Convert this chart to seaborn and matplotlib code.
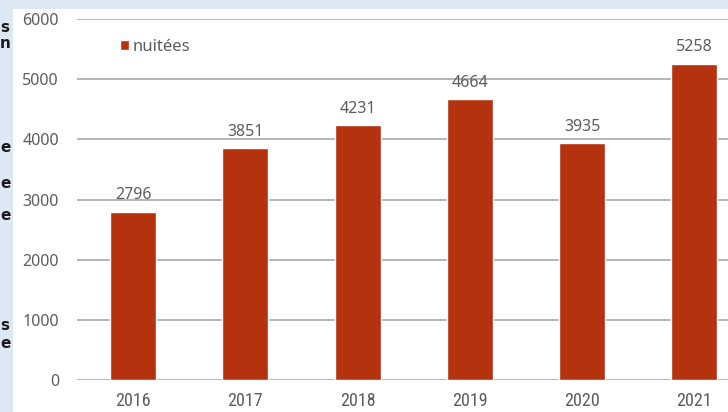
import matplotlib
matplotlib.use("Agg")
import matplotlib.pyplot as plt
from matplotlib.patches import Rectangle, Patch
from matplotlib import font_manager as fm
import seaborn as sns
import pandas as pd

years = ["2016", "2017", "2018", "2019", "2020", "2021"]
nuitees = [2796, 3851, 4231, 4664, 3935, 5258]
yticks = [0, 1000, 2000, 3000, 4000, 5000, 6000]
series_name = "nuitées"
side_chars = [("s", 28), ("n", 44), ("e", 147), ("e", 183), ("e", 216), ("s", 325), ("e", 343)]


def find_narrow():
    prefs = ["Liberation Sans Narrow", "Roboto Condensed", "Open Sans Condensed",
             "Noto Sans Condensed", "DejaVu Sans"]
    cands = []
    for f in fm.fontManager.ttflist:
        nm = f.name
        st = str(f.stretch)
        narrow = ("Narrow" in nm or "Condensed" in nm or "ondensed" in st
                  or "Condensed" in f.fname or "Narrow" in f.fname)
        if not narrow or f.style != "normal":
            continue
        if isinstance(f.weight, int) and f.weight != 400:
            continue
        if "Bold" in f.fname or "Italic" in f.fname or "Oblique" in f.fname:
            continue
        rank = len(prefs)
        for i, p in enumerate(prefs):
            if nm.startswith(p):
                rank = i
                break
        cands.append((rank, f.fname))
    if cands:
        cands.sort()
        return fm.FontProperties(fname=cands[0][1])
    return fm.FontProperties(family="DejaVu Sans", stretch="condensed")


sns.set_theme(style="white")
W, H = 728, 412
fig = plt.figure(figsize=(W / 100, H / 100), dpi=100)
fig.patch.set_facecolor("#dde8f4")
fig.patches.append(Rectangle((13 / W, 0), 1, (H - 9) / H, transform=fig.transFigure,
                             facecolor="white", edgecolor="none", zorder=-10))

ax = fig.add_axes([77 / W, (H - 380) / H, 651 / W, 361 / H])
ax.set_zorder(5)
ax.set_facecolor("none")
bar_color = "#b5320f"
df = pd.DataFrame({"year": years, "value": nuitees})
sns.barplot(data=df, x="year", y="value", color=bar_color, width=0.41,
            saturation=1, ax=ax, zorder=3)

text_color = "#5c5c5c"
main_font = "Noto Sans"
ax.set_ylim(0, 6000)
ax.set_xlim(-0.5, 5.3)
ax.set_yticks(yticks)
ax.set_yticklabels([str(t) for t in yticks], fontsize=11.5, color=text_color, family=main_font)
ax.tick_params(axis="y", length=0, pad=13)
ax.tick_params(axis="x", length=0, pad=9)
narrow = find_narrow()
narrow.set_size(13)
for lab in ax.get_xticklabels():
    lab.set_fontproperties(narrow)
    lab.set_color(text_color)
ax.set_xlabel("")
ax.set_ylabel("")
ax.grid(axis="y", color="#a8a8a8", linewidth=1.2, zorder=0)
ax.set_axisbelow(True)
for s in ax.spines.values():
    s.set_visible(False)

for i, v in enumerate(nuitees):
    ax.annotate(str(v), (i, v), xytext=(0, 6), textcoords="offset points",
                ha="center", va="bottom", fontsize=11.5, color=text_color, family=main_font)

leg = ax.legend(handles=[Patch(facecolor=bar_color, label=series_name)],
                loc="center left", bbox_to_anchor=(0.066, 0.922), frameon=False,
                handlelength=0.55, handleheight=0.55, handletextpad=0.2,
                borderpad=0, borderaxespad=0, prop={"family": main_font, "size": 12})
for t in leg.get_texts():
    t.set_color(text_color)

for ch, y in side_chars:
    fig.text(0, 1 - y / H, ch, ha="left", va="center", fontsize=11,
             fontweight="bold", color="#1a1a1a", family="DejaVu Sans")

fig.savefig("out.png", dpi=100, facecolor=fig.get_facecolor())
